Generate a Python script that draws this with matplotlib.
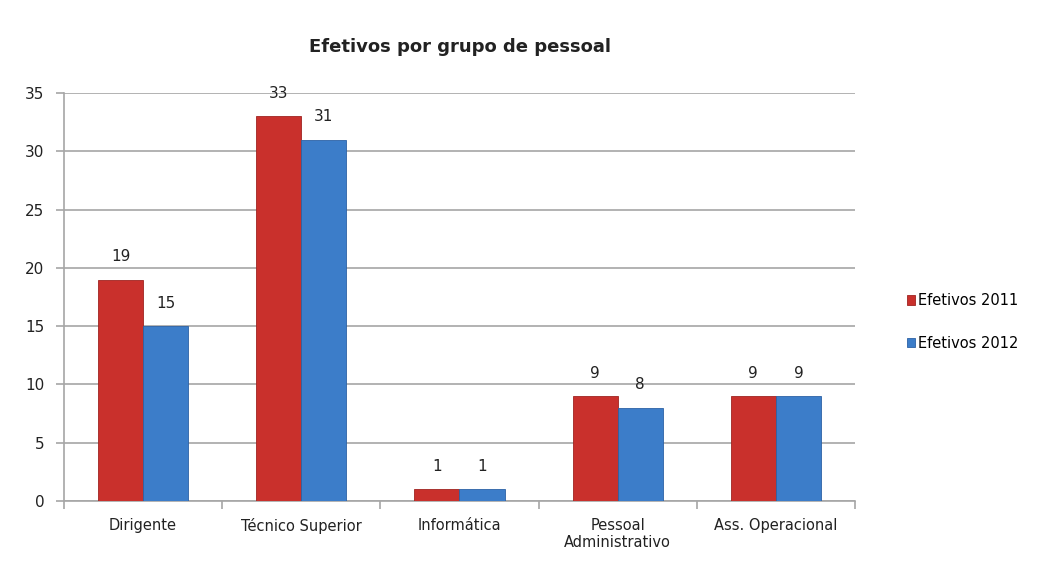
import numpy as np
import matplotlib.pyplot as plt

categories = ['Dirigente', 'Técnico Superior', 'Informática', 'Pessoal\nAdministrativo', 'Ass. Operacional']
efetivos_2011 = [19, 33, 1, 9, 9]
efetivos_2012 = [15, 31, 1, 8, 9]

red = '#C9302C'
blue = '#3C7DC9'
grid = '#A6A6A6'

fig = plt.figure(figsize=(10.45, 5.75), dpi=100)
ax = fig.add_axes([0.0612, 0.1287, 0.7570, 0.7096])

x = np.arange(len(categories))
w = 0.285
b1 = ax.bar(x - w / 2, efetivos_2011, w, color=red, edgecolor='#A02420', linewidth=0.6,
            label='Efetivos 2011', zorder=3)
b2 = ax.bar(x + w / 2, efetivos_2012, w, color=blue, edgecolor='#2C62A5', linewidth=0.6,
            label='Efetivos 2012', zorder=3)

for bars in (b1, b2):
    for r in bars:
        ax.annotate(str(int(r.get_height())), (r.get_x() + r.get_width() / 2, r.get_height()),
                    xytext=(0, 11), textcoords='offset points', ha='center', va='bottom',
                    fontsize=11, color='#222222')

ax.set_xlim(-0.5, len(categories) - 0.5)
ax.set_ylim(0, 35)
ax.set_yticks(range(0, 36, 5))
ax.yaxis.grid(True, color=grid, linewidth=1.2, zorder=0)
ax.set_xticks(x)
ax.set_xticklabels(categories, fontsize=10.5, color='#222222')
ax.set_xticks(np.arange(-0.5, len(categories), 1), minor=True)
ax.tick_params(axis='x', which='major', length=0, pad=12)
ax.tick_params(axis='x', which='minor', length=6, color=grid, width=1.2)
ax.tick_params(axis='y', length=6, color=grid, width=1.2, labelsize=11, labelcolor='#222222', pad=8)

for s in ('top', 'right'):
    ax.spines[s].set_visible(False)
ax.spines['left'].set_color(grid)
ax.spines['left'].set_linewidth(1.2)
ax.spines['bottom'].set_color(grid)
ax.spines['bottom'].set_linewidth(1.2)

fig.text(0.44, 0.918, 'Efetivos por grupo de pessoal', ha='center', va='center',
         fontsize=13, fontweight='bold', color='#222222')

fig.legend(handles=[b1, b2], loc='center left', bbox_to_anchor=(0.855, 0.44),
           frameon=False, fontsize=10.5, handlelength=0.6, handleheight=0.6,
           handletextpad=0.2, labelspacing=1.9)

fig.savefig('out.png', dpi=100)
